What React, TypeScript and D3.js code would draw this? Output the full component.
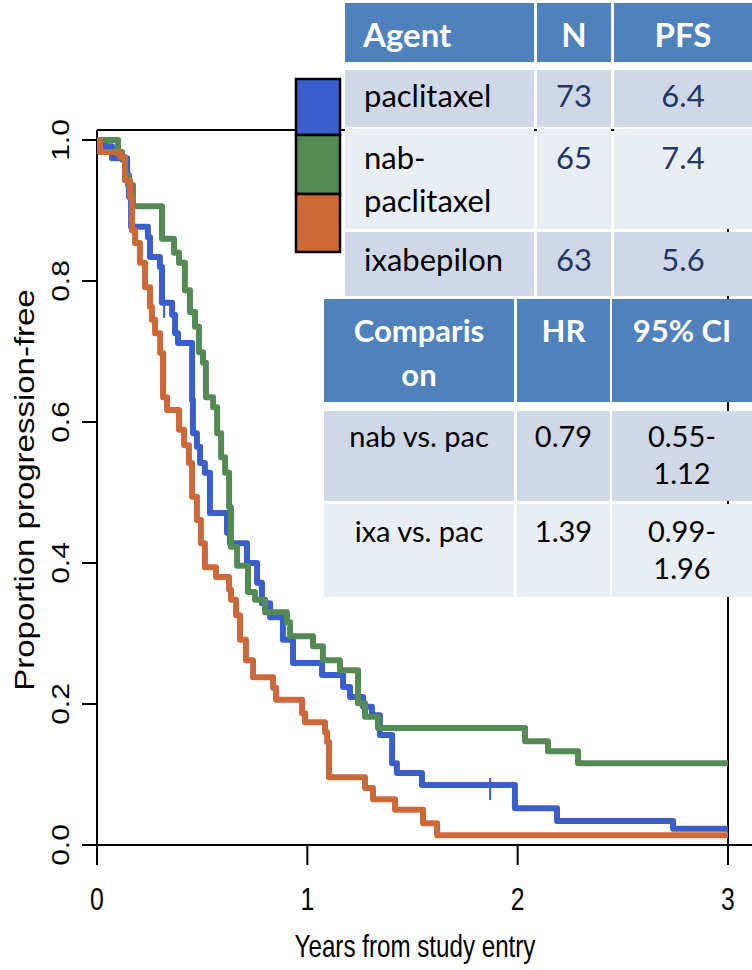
import React from 'react';
import * as d3 from 'd3';

// ---- survival curve data (years, proportion progression-free) ----
const paclitaxelTimes = [0.038, 0.071, 0.143, 0.152, 0.162, 0.242, 0.252, 0.299, 0.309, 0.357, 0.371, 0.385, 0.452, 0.456, 0.475, 0.490, 0.513, 0.537, 0.618, 0.632, 0.713, 0.761, 0.784, 0.823, 0.884, 0.932, 1.070, 1.170, 1.203, 1.265, 1.307, 1.345, 1.403, 1.426, 1.545, 1.987, 2.187, 2.739];
const paclitaxelSurv = [0.991, 0.974, 0.950, 0.919, 0.877, 0.862, 0.834, 0.820, 0.769, 0.752, 0.726, 0.712, 0.631, 0.584, 0.565, 0.542, 0.528, 0.471, 0.443, 0.428, 0.400, 0.372, 0.343, 0.323, 0.291, 0.258, 0.241, 0.224, 0.210, 0.196, 0.184, 0.156, 0.116, 0.102, 0.085, 0.052, 0.034, 0.023];
const paclitaxelCensorTimes = [0.319, 1.869];

const nabTimes = [0.100, 0.119, 0.133, 0.147, 0.171, 0.309, 0.366, 0.390, 0.418, 0.442, 0.466, 0.485, 0.504, 0.518, 0.552, 0.571, 0.590, 0.609, 0.628, 0.637, 0.666, 0.718, 0.751, 0.799, 0.903, 0.918, 1.027, 1.074, 1.155, 1.241, 1.274, 1.336, 2.035, 2.144, 2.287];
const nabSurv = [0.983, 0.972, 0.950, 0.936, 0.906, 0.860, 0.840, 0.826, 0.787, 0.756, 0.735, 0.699, 0.684, 0.635, 0.621, 0.584, 0.550, 0.528, 0.479, 0.423, 0.396, 0.359, 0.348, 0.330, 0.316, 0.296, 0.282, 0.262, 0.248, 0.201, 0.182, 0.166, 0.147, 0.133, 0.116];

const ixaTimes = [0.014, 0.109, 0.133, 0.157, 0.166, 0.181, 0.204, 0.228, 0.252, 0.261, 0.276, 0.300, 0.314, 0.333, 0.390, 0.414, 0.437, 0.452, 0.475, 0.494, 0.513, 0.566, 0.628, 0.637, 0.661, 0.680, 0.708, 0.742, 0.837, 0.851, 0.975, 0.989, 1.084, 1.094, 1.103, 1.274, 1.312, 1.417, 1.550, 1.617];
const ixaSurv = [0.983, 0.976, 0.943, 0.919, 0.872, 0.854, 0.826, 0.791, 0.763, 0.745, 0.726, 0.698, 0.635, 0.617, 0.589, 0.567, 0.542, 0.494, 0.461, 0.428, 0.394, 0.380, 0.362, 0.348, 0.326, 0.291, 0.262, 0.238, 0.223, 0.206, 0.187, 0.174, 0.160, 0.146, 0.096, 0.081, 0.065, 0.050, 0.031, 0.014];

const xTicks = [0, 1, 2, 3];
const yTicks = [0, 0.2, 0.4, 0.6, 0.8, 1.0];
const xTitle = 'Years from study entry';
const yTitle = 'Proportion progression-free';

// ---- tables ----
const agentHeader = ['Agent', 'N', 'PFS'];
const agentNames = [['paclitaxel'], ['nab-', 'paclitaxel'], ['ixabepilon']];
const agentN = ['73', '65', '63'];
const agentPFS = ['6.4', '7.4', '5.6'];
const compHeader = [['Comparis', 'on'], ['HR'], ['95% CI']];
const compNames = ['nab vs. pac', 'ixa vs. pac'];
const compHR = ['0.79', '1.39'];
const compCI = [['0.55-', '1.12'], ['0.99-', '1.96']];

const COLORS = ['#3A5FCD', '#548B54', '#CD6839'];

const x = d3.scaleLinear().domain([0, 3]).range([97, 728]);
const y = d3.scaleLinear().domain([0, 1]).range([845, 140]);

function stepPath(times: number[], surv: number[]) {
  const pts: [number, number][] = [[0, 1], ...times.map((t, i) => [t, surv[i]] as [number, number]), [3, surv[surv.length - 1]]];
  return d3.line<[number, number]>().x(d => x(d[0])).y(d => y(d[1])).curve(d3.curveStepAfter)(pts) || '';
}

function survAt(times: number[], surv: number[], t: number) {
  let s = 1;
  times.forEach((tt, i) => { if (tt <= t) s = surv[i]; });
  return s;
}

const AX = "'Liberation Sans', Arial, Helvetica, sans-serif";
const TB = "Lato, 'Open Sans', sans-serif";
const HEAD = '#4F81BD';
const DARK = '#D0D8E8';
const LIGHT = '#E9EDF4';
const NAVY = '#1F3866';

export default function App() {
  const t1Cols = [[345, 534], [537, 611], [614, 752]];
  const t1Rows = [[70, 127], [129, 229], [232, 296]];
  const t1Base = [[107], [169, 212], [271]];
  const t2Cols = [[324, 514], [517, 610], [612, 752]];
  const t2Rows = [[411, 501], [504, 597]];
  const t2Base = [447, 542];
  const cx = (c: number[]) => (c[0] + c[1]) / 2;

  return (
    <svg width={752} height={970} style={{ position: 'absolute', left: 0, top: 0, background: '#fff' }}>
      {/* plot box */}
      <g stroke="#000" strokeWidth={2} fill="none">
        <line x1={97} y1={130} x2={728} y2={130} />
        <line x1={728} y1={130} x2={728} y2={845} />
        <line x1={97} y1={845} x2={752} y2={845} />
        <line x1={97} y1={130} x2={97} y2={845} />
      </g>
      {/* y axis */}
      {yTicks.map(v => (
        <g key={'y' + v}>
          <line x1={82} x2={97} y1={y(v)} y2={y(v)} stroke="#000" strokeWidth={2} />
          <text transform={`translate(69,${y(v)}) rotate(-90) scale(1,0.8)`} textAnchor="middle" fontFamily={AX} fontSize={30} fill="#000">{v.toFixed(1)}</text>
        </g>
      ))}
      <text transform={`translate(34,490) rotate(-90) scale(1,0.82)`} textAnchor="middle" fontFamily={AX} fontSize={33} fill="#000">{yTitle}</text>
      {/* x axis */}
      {xTicks.map(v => (
        <g key={'x' + v}>
          <line x1={x(v)} x2={x(v)} y1={845} y2={865} stroke="#000" strokeWidth={2} />
          <text transform={`translate(${x(v)},910) scale(0.8,1)`} textAnchor="middle" fontFamily={AX} fontSize={31} fill="#000">{v}</text>
        </g>
      ))}
      <text transform={`translate(415,957) scale(0.78,1)`} textAnchor="middle" fontFamily={AX} fontSize={31} fill="#000">{xTitle}</text>

      {/* curves */}
      <path d={stepPath(paclitaxelTimes, paclitaxelSurv)} fill="none" stroke={COLORS[0]} strokeWidth={6} strokeLinejoin="round" />
      <path d={stepPath(nabTimes, nabSurv)} fill="none" stroke={COLORS[1]} strokeWidth={6} strokeLinejoin="round" />
      <path d={stepPath(ixaTimes, ixaSurv)} fill="none" stroke={COLORS[2]} strokeWidth={6} strokeLinejoin="round" />
      {paclitaxelCensorTimes.map(t => {
        const yy = y(survAt(paclitaxelTimes, paclitaxelSurv, t));
        return <line key={'c' + t} x1={x(t)} x2={x(t)} y1={yy - 7} y2={yy + 15} stroke={COLORS[0]} strokeWidth={2} />;
      })}

      {/* legend swatches */}
      {[[79, 135], [135, 194], [194, 252]].map((r, i) => (
        <rect key={'sw' + i} x={296} y={r[0]} width={44} height={r[1] - r[0]} fill={COLORS[i]} stroke="#000" strokeWidth={2.5} />
      ))}

      {/* table 1 */}
      {t1Cols.map((c, j) => (
        <rect key={'h1' + j} x={c[0]} y={3} width={c[1] - c[0]} height={59} fill={HEAD} />
      ))}
      {t1Rows.map((r, i) => t1Cols.map((c, j) => (
        <rect key={'r1' + i + j} x={c[0]} y={r[0]} width={c[1] - c[0]} height={r[1] - r[0]} fill={i % 2 === 0 ? DARK : LIGHT} />
      )))}
      <text x={363} y={47} fontFamily={TB} fontWeight={700} fontSize={33} fill="#fff">{agentHeader[0]}</text>
      <text x={cx(t1Cols[1])} y={47} textAnchor="middle" fontFamily={TB} fontWeight={700} fontSize={33} fill="#fff">{agentHeader[1]}</text>
      <text x={cx(t1Cols[2])} y={47} textAnchor="middle" fontFamily={TB} fontWeight={700} fontSize={33} fill="#fff">{agentHeader[2]}</text>
      {agentNames.map((lines, i) => (
        <g key={'a' + i}>
          {lines.map((ln, k) => (
            <text key={k} x={364} y={t1Base[i][k]} fontFamily={TB} fontSize={31} fill="#000">{ln}</text>
          ))}
          <text x={cx(t1Cols[1])} y={t1Base[i][0]} textAnchor="middle" fontFamily={TB} fontSize={31} fill={NAVY}>{agentN[i]}</text>
          <text x={cx(t1Cols[2])} y={t1Base[i][0]} textAnchor="middle" fontFamily={TB} fontSize={31} fill={NAVY}>{agentPFS[i]}</text>
        </g>
      ))}

      {/* table 2 */}
      {t2Cols.map((c, j) => (
        <rect key={'h2' + j} x={c[0]} y={299} width={c[1] - c[0]} height={103} fill={HEAD} />
      ))}
      {t2Rows.map((r, i) => t2Cols.map((c, j) => (
        <rect key={'r2' + i + j} x={c[0]} y={r[0]} width={c[1] - c[0]} height={r[1] - r[0]} fill={i % 2 === 0 ? DARK : LIGHT} />
      )))}
      {compHeader.map((lines, j) => lines.map((ln, k) => (
        <text key={'ch' + j + k} x={cx(t2Cols[j])} y={342 + k * 44} textAnchor="middle" fontFamily={TB} fontWeight={700} fontSize={31} fill="#fff">{ln}</text>
      )))}
      {compNames.map((nm, i) => (
        <g key={'cmp' + i}>
          <text x={cx(t2Cols[0])} y={t2Base[i]} textAnchor="middle" fontFamily={TB} fontSize={29} fill="#000">{nm}</text>
          <text x={cx(t2Cols[1])} y={t2Base[i]} textAnchor="middle" fontFamily={TB} fontSize={29} fill="#000">{compHR[i]}</text>
          {compCI[i].map((ln, k) => (
            <text key={k} x={cx(t2Cols[2])} y={t2Base[i] + k * 37} textAnchor="middle" fontFamily={TB} fontSize={29} fill="#000">{ln}</text>
          ))}
        </g>
      ))}
    </svg>
  );
}
